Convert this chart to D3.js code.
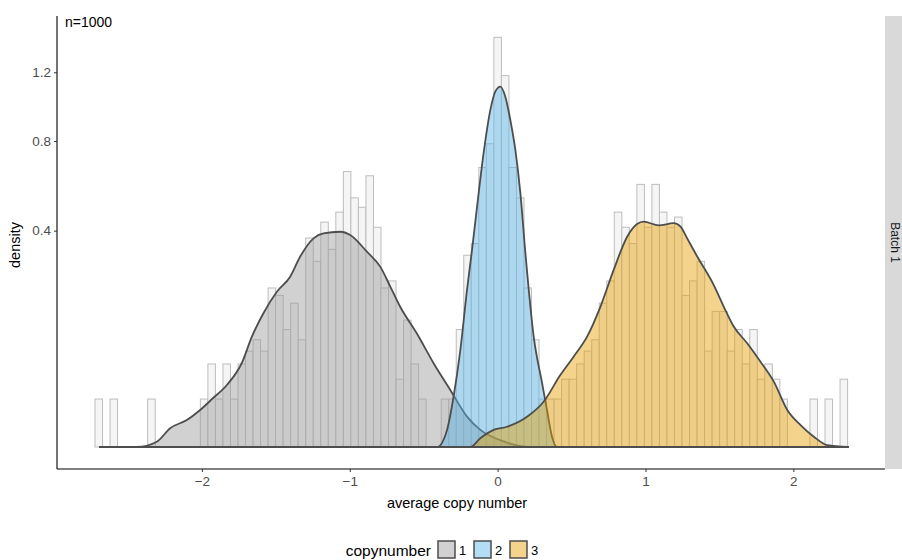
<!DOCTYPE html>
<html>
<head>
<meta charset="utf-8">
<script src="https://cdn.jsdelivr.net/npm/d3@7"></script>
<style>
  body { margin: 0; background: #fff; }
  text { font-family: 'Liberation Sans', Arial, sans-serif; }
</style>
</head>
<body>
<svg id="chart" width="902" height="560"></svg>
<script>
// histogram: 100 bins, counts per bin (n = 1000)
var nObs = 1000;
var binStart = -2.723, binWidth = 0.0509;
var binCounts = [
  1,0,1,0,0,0,0,1,0,0,
  0,0,0,0,1,3,1,3,1,3,
  4,5,4,11,10,6,9,5,19,15,
  22,17,24,33,27,25,32,21,11,12,
  2,7,3,1,0,0,1,1,6,16,
  18,34,40,73,60,34,27,11,5,1,
  1,1,2,2,3,4,5,9,12,24,
  21,18,30,21,30,24,21,23,10,12,
  15,4,8,8,4,6,3,6,2,3,
  2,1,0,0,0,1,0,1,0,2
];

// density curves for each copy number state (x, density)
var grayX = [-2.69,-2.44,-2.305,-2.215,-2.102,-2.012,-1.924,-1.831,-1.73,-1.662,-1.584,-1.493,-1.403,-1.335,-1.245,-1.178,-1.065,-0.997,-0.884,-0.794,-0.726,-0.659,-0.546,-0.433,-0.32,-0.207,-0.117,0.018,0.22,2.37];
var grayY = [0,0,0.00024,0.003,0.0062,0.0117,0.0205,0.0329,0.0603,0.104,0.153,0.206,0.248,0.31,0.372,0.39,0.396,0.384,0.326,0.278,0.22,0.168,0.11,0.06,0.0278,0.0079,0.0025,0.0004,0,0];

var blueX = [-2.69,-0.41,-0.342,-0.298,-0.252,-0.207,-0.173,-0.139,-0.095,-0.049,-0.016,0.018,0.052,0.086,0.12,0.154,0.188,0.244,0.301,0.334,0.368,0.402,2.37];
var blueY = [0,0,0.0025,0.0216,0.0804,0.211,0.332,0.494,0.737,0.971,1.079,1.11,1.049,0.914,0.754,0.55,0.321,0.104,0.0347,0.0117,0.0009,0,0];

var goldX = [-2.69,-0.185,-0.117,-0.027,0.064,0.199,0.311,0.424,0.514,0.605,0.695,0.785,0.876,0.943,0.988,1.09,1.191,1.237,1.282,1.35,1.462,1.53,1.597,1.688,1.778,1.868,1.959,2.049,2.139,2.229,2.37];
var goldY = [0,0,0.00065,0.0025,0.0035,0.0078,0.0175,0.0443,0.0697,0.104,0.168,0.268,0.378,0.425,0.434,0.42,0.428,0.415,0.372,0.31,0.224,0.168,0.124,0.092,0.0622,0.0365,0.0117,0.0041,0.0009,0.00003,0];

var states = ["1", "2", "3"];
var fills = ["#999999", "#56B4E9", "#E69F00"];
var xTicks = [-2, -1, 0, 1, 2];
var yTicks = [0.4, 0.8, 1.2];

var svg = d3.select("#chart");
var pLeft = 57, pRight = 885, pTop = 16, pBottom = 469;

var x = d3.scaleLinear().domain([-2.98, 2.62]).range([pLeft, pRight]);
var y = d3.scaleSqrt().domain([0, 1.5876]).range([447, pTop]);

// histogram bars
var bars = binCounts.map(function(c, i) {
  return { x0: binStart + i * binWidth, x1: binStart + (i + 1) * binWidth, d: c / (nObs * binWidth) };
}).filter(function(b) { return b.d > 0; });

svg.append("g").selectAll("rect")
  .data(bars)
  .enter().append("rect")
  .attr("x", function(b) { return x(b.x0); })
  .attr("width", function(b) { return x(b.x1) - x(b.x0); })
  .attr("y", function(b) { return y(b.d); })
  .attr("height", function(b) { return y(0) - y(b.d); })
  .attr("fill", "#f5f5f5")
  .attr("stroke", "#bdbdbd")
  .attr("stroke-width", 1);

// densities
var area = d3.area()
  .x(function(d) { return x(d[0]); })
  .y0(y(0))
  .y1(function(d) { return y(d[1]); })
  .curve(d3.curveMonotoneX);

var curves = [d3.zip(grayX, grayY), d3.zip(blueX, blueY), d3.zip(goldX, goldY)];
curves.forEach(function(pts, i) {
  svg.append("path")
    .attr("d", area(pts))
    .attr("fill", fills[i])
    .attr("fill-opacity", 0.45)
    .attr("stroke", "#4d4d4d")
    .attr("stroke-width", 1.8)
    .attr("stroke-linejoin", "round");
});

// axes
svg.append("line").attr("x1", pLeft).attr("x2", pLeft).attr("y1", pTop).attr("y2", pBottom)
  .attr("stroke", "#000").attr("stroke-width", 1.1);
svg.append("line").attr("x1", pLeft).attr("x2", pRight).attr("y1", pBottom).attr("y2", pBottom)
  .attr("stroke", "#000").attr("stroke-width", 1.1);

var yAxis = svg.append("g").attr("transform", "translate(" + pLeft + ",0)")
  .call(d3.axisLeft(y).tickValues(yTicks).tickSize(3).tickPadding(3).tickFormat(d3.format(".1f")));
var xAxis = svg.append("g").attr("transform", "translate(0," + pBottom + ")")
  .call(d3.axisBottom(x).tickValues(xTicks).tickSize(3).tickPadding(4)
    .tickFormat(function(d) { return d < 0 ? "\u2212" + Math.abs(d) : d; }));
[yAxis, xAxis].forEach(function(a) {
  a.select(".domain").remove();
  a.selectAll(".tick line").attr("stroke", "#333");
  a.selectAll(".tick text").attr("fill", "#4d4d4d").style("font-size", "13.5px")
    .style("font-family", "'Liberation Sans', Arial, sans-serif");
});

svg.append("text").attr("x", 65).attr("y", 27).attr("font-size", 14).attr("fill", "#000").text("n=1000");

svg.append("text").attr("x", 457).attr("y", 508).attr("text-anchor", "middle")
  .attr("font-size", 14.5).attr("fill", "#000").text("average copy number");
svg.append("text").attr("transform", "translate(20,245) rotate(-90)").attr("text-anchor", "middle")
  .attr("font-size", 14.5).attr("fill", "#000").text("density");

// facet strip
svg.append("rect").attr("x", pRight).attr("y", pTop).attr("width", 902 - pRight).attr("height", pBottom - pTop)
  .attr("fill", "#d9d9d9");
svg.append("text").attr("transform", "translate(" + (pRight + 6) + "," + ((pTop + pBottom) / 2) + ") rotate(90)")
  .attr("text-anchor", "middle").attr("font-size", 12).attr("fill", "#1a1a1a").text("Batch 1");

// legend
var lg = svg.append("g");
lg.append("text").attr("x", 431).attr("y", 556).attr("text-anchor", "end")
  .attr("font-size", 15.5).attr("fill", "#000").text("copynumber");
states.forEach(function(s, i) {
  var kx = 438 + i * 36;
  lg.append("rect").attr("x", kx).attr("y", 541).attr("width", 17).attr("height", 17)
    .attr("fill", fills[i]).attr("fill-opacity", 0.45).attr("stroke", "#4d4d4d").attr("stroke-width", 1.5);
  lg.append("text").attr("x", kx + 21).attr("y", 555).attr("font-size", 13).attr("fill", "#000").text(s);
});
</script>
</body>
</html>
